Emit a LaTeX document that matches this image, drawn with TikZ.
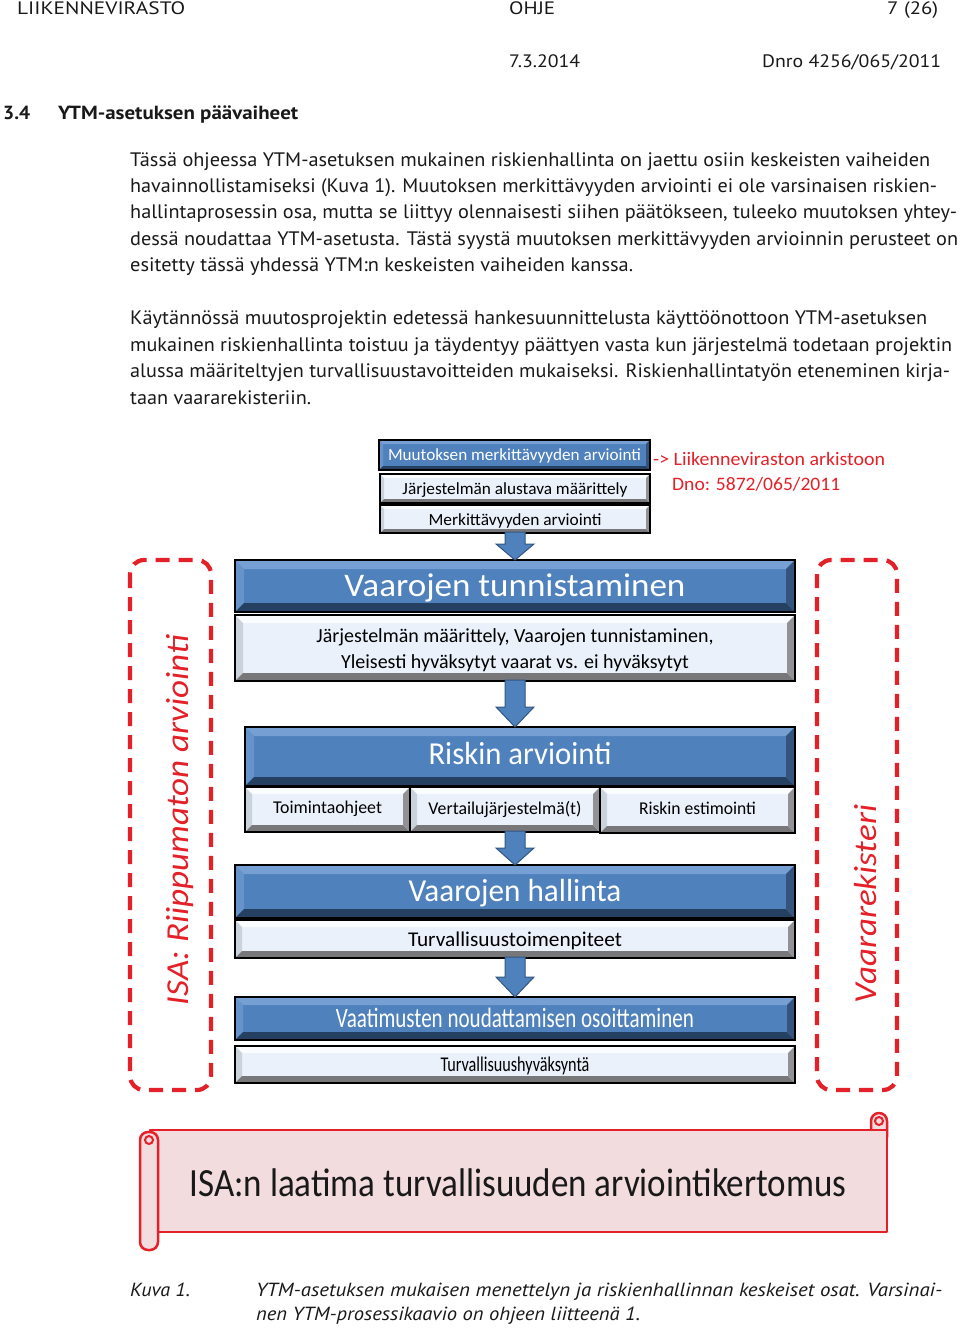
\documentclass[tikz,border=0pt]{standalone}
\usepackage{fontspec}
\setmainfont{PT Sans}
\newfontfamily\calfont{Carlito}
\usepackage{graphicx}
\usetikzlibrary{calc}
\definecolor{bmain}{RGB}{79,129,189}
\definecolor{btop}{RGB}{118,160,212}
\definecolor{bleft}{RGB}{102,147,202}
\definecolor{bbot}{RGB}{38,64,98}
\definecolor{bright}{RGB}{52,84,125}
\definecolor{gmain}{RGB}{234,241,250}
\definecolor{gtop}{RGB}{250,252,255}
\definecolor{gleft}{RGB}{202,210,220}
\definecolor{gbot}{RGB}{120,120,122}
\definecolor{gright}{RGB}{145,145,150}
\definecolor{redc}{RGB}{228,32,40}
\definecolor{scrollfill}{RGB}{242,220,222}
\definecolor{txtgray}{RGB}{25,25,25}
\definecolor{arrowline}{RGB}{50,85,130}
\newcommand\fitw[2]{\resizebox{#1}{\height}{#2}}
\newcommand\fs[2]{\fontsize{#1}{#2}\selectfont}
\tikzset{
 bluebox/.style={fill=bmain,inner sep=0pt,outer sep=0pt},
 greybox/.style={fill=gmain,inner sep=0pt,outer sep=0pt},
 bluetop/.style={fill=btop}, blueleft/.style={fill=bleft},
 bluebot/.style={fill=bbot}, blueright/.style={fill=bright},
 greytop/.style={fill=gtop}, greyleft/.style={fill=gleft},
 greybot/.style={fill=gbot}, greyright/.style={fill=gright},
 bluetext/.style={text=white, align=center, inner sep=0pt},
 greytext/.style={text=black, align=center, inner sep=0pt},
 boxline/.style={draw=black, line width=1.4pt},
 blockarr/.style={fill=bmain, draw=arrowline, line width=1pt},
 reddash/.style={draw=redc, line width=4.2pt, dash pattern=on 14pt off 9pt, rounded corners=14pt},
 scrollsty/.style={fill=scrollfill, draw=redc, line width=2.5pt, line join=round},
 bodytext/.style={anchor=base west, inner sep=0pt, text=txtgray, font=\fs{19.5}{24}},
 captext/.style={anchor=base west, inner sep=0pt, text=txtgray, font=\fs{19}{24}\itshape},
 headtext/.style={anchor=base west, inner sep=0pt, text=txtgray, font=\fs{18}{22}},
 redtext/.style={anchor=base west, inner sep=0pt, text=redc, font=\calfont\fs{19}{23}},
}
\newcommand\vstrut{\rule[-0.2em]{0pt}{0.86em}}
% #1 name, #2-#5 corners, #6 kind, #7 bevel, #8 font, #9 text
\newcommand\bevbox[9]{%
 \node[#6box, anchor=north west, minimum width={(#4-#2)*1pt}, minimum height={(#5-#3)*1pt}] (#1) at (#2,#3) {};
 \fill[#6top] (#1.north west) -- (#1.north east) -- ($(#1.north east)+(-#7,#7)$) -- ($(#1.north west)+(#7,#7)$) -- cycle;
 \fill[#6left] (#1.north west) -- ($(#1.north west)+(#7,#7)$) -- ($(#1.south west)+(#7,-#7)$) -- (#1.south west) -- cycle;
 \fill[#6bot] (#1.south west) -- (#1.south east) -- ($(#1.south east)+(-#7,-#7)$) -- ($(#1.south west)+(#7,-#7)$) -- cycle;
 \fill[#6right] (#1.north east) -- (#1.south east) -- ($(#1.south east)+(-#7,-#7)$) -- ($(#1.north east)+(-#7,#7)$) -- cycle;
 \draw[boxline] (#1.north west) rectangle (#1.south east);
 \node[#6text, font=#8] (#1t) at ($(#1.center)+(0,2)$) {\vstrut#9};
}
\newcommand\blockarrow[3]{%
 \path (#1.south -| ax) coordinate (#1s) (#2.north -| ax) coordinate (#2n);
 \filldraw[blockarr] ($(#1s)+(-10,-1)$) -- ($(#1s)+(10,-1)$) -- ($(#2n)+(10,-#3)$) -- ($(#2n)+(19,-#3)$) -- (#2n) -- ($(#2n)+(-19,-#3)$) -- ($(#2n)+(-10,-#3)$) -- cycle;
}
\begin{document}
\begin{tikzpicture}[x=1pt,y=-1pt]
\useasboundingbox (0,0) rectangle (960,1328);
\fill[white] (0,0) rectangle (960,1328);
% header
\node[headtext] (h1) at (17,14) {\fitw{168pt}{LIIKENNEVIRASTO}};
\node[headtext] (h2) at (509,14) {\fitw{46pt}{OHJE}};
\node[headtext] (h3) at (887,14) {\fitw{51pt}{7 (26)}};
\node[headtext] (h4) at (509,67) {\fitw{71pt}{7.3.2014}};
\node[headtext] (h5) at (762,67) {\fitw{179pt}{Dnro 4256/065/2011}};
\node[headtext, font=\fs{19}{22}\bfseries] (h6) at (3,119) {\fitw{27pt}{3.4}};
\node[headtext, font=\fs{19}{22}\bfseries] (h7) at (58,119) {\fitw{240pt}{YTM-asetuksen päävaiheet}};
% body
\node[bodytext] (p1) at (130,166) {\fitw{800pt}{Tässä ohjeessa YTM-asetuksen mukainen riskienhallinta on jaettu osiin keskeisten vaiheiden}};
\node[bodytext] (p2) at (130,192) {\fitw{807pt}{havainnollistamiseksi (Kuva 1). Muutoksen merkittävyyden arviointi ei ole varsinaisen riskien-}};
\node[bodytext] (p3) at (130,218) {\fitw{827pt}{hallintaprosessin osa, mutta se liittyy olennaisesti siihen päätökseen, tuleeko muutoksen yhtey-}};
\node[bodytext] (p4) at (130,245) {\fitw{828pt}{dessä noudattaa YTM-asetusta. Tästä syystä muutoksen merkittävyyden arvioinnin perusteet on}};
\node[bodytext] (p5) at (130,271) {\fitw{503pt}{esitetty tässä yhdessä YTM:n keskeisten vaiheiden kanssa.}};
\node[bodytext] (q1) at (130,324) {\fitw{797pt}{Käytännössä muutosprojektin edetessä hankesuunnittelusta käyttöönottoon YTM-asetuksen}};
\node[bodytext] (q2) at (130,351) {\fitw{822pt}{mukainen riskienhallinta toistuu ja täydentyy päättyen vasta kun järjestelmä todetaan projektin}};
\node[bodytext] (q3) at (130,377) {\fitw{820pt}{alussa määriteltyjen turvallisuustavoitteiden mukaiseksi. Riskienhallintatyön eteneminen kirja-}};
\node[bodytext] (q4) at (130,404) {\fitw{181pt}{taan vaararekisteriin.}};
% diagram
\coordinate (ax) at (515,0);
\draw[reddash] (130,560) rectangle (211,1090);
\draw[reddash] (817,560) rectangle (897,1090);
\node[rotate=90, text=redc, inner sep=0pt, font=\calfont\itshape\fs{32}{36}] (isa) at (180,820) {\fitw{370pt}{ISA: Riippumaton arviointi}};
\node[rotate=90, text=redc, inner sep=0pt, font=\calfont\itshape\fs{32}{36}] (vrek) at (865,904) {\fitw{198pt}{Vaararekisteri}};

\bevbox{m1}{379}{440}{650}{470}{blue}{4}{\calfont\fs{17}{20}}{\raisebox{2pt}{\fitw{253pt}{Muutoksen merkittävyyden arviointi}}}
\bevbox{m2}{380}{474}{650}{503}{grey}{4}{\calfont\fs{17}{20}}{\fitw{225pt}{Järjestelmän alustava määrittely}}
\bevbox{m3}{380}{505}{650}{533}{grey}{4}{\calfont\fs{17}{20}}{\fitw{173pt}{Merkittävyyden arviointi}}
\node[redtext] (rt1) at (653,465) {\fitw{232pt}{-> Liikenneviraston arkistoon}};
\node[redtext] (rt2) at (672,490) {\fitw{168pt}{Dno: 5872/065/2011}};

\bevbox{vt}{235}{560}{795}{612}{blue}{9}{\calfont\fs{33}{36}}{\fitw{341pt}{Vaarojen tunnistaminen}}
\bevbox{vtd}{235}{615}{795}{681}{grey}{8}{\calfont\fs{20}{26}}{Järjestelmän määrittely, Vaarojen tunnistaminen,\\ Yleisesti hyväksytyt vaarat vs. ei hyväksytyt}
\bevbox{ra}{245}{727}{795}{786}{blue}{9}{\calfont\fs{32}{36}}{\raisebox{3pt}{\fitw{183pt}{Riskin arviointi}}}
\bevbox{r1}{245}{787}{410}{832}{grey}{7}{\calfont\fs{18}{20}}{\raisebox{4pt}{\fitw{109pt}{Toimintaohjeet}}}
\bevbox{r2}{410}{787}{600}{832}{grey}{7}{\calfont\fs{18}{20}}{\raisebox{4pt}{\fitw{153pt}{Vertailujärjestelmä(t)}}}
\bevbox{r3}{600}{787}{795}{833}{grey}{7}{\calfont\fs{18}{20}}{\raisebox{4pt}{\fitw{117pt}{Riskin estimointi}}}
\bevbox{vh}{235}{865}{795}{918}{blue}{9}{\calfont\fs{32}{36}}{\fitw{213pt}{Vaarojen hallinta}}
\bevbox{vhd}{235}{920}{795}{958}{grey}{7}{\calfont\fs{21}{24}}{\fitw{214pt}{Turvallisuustoimenpiteet}}
\bevbox{vn}{235}{997}{795}{1040}{blue}{8}{\calfont\fs{28}{32}}{\fitw{358pt}{Vaatimusten noudattamisen osoittaminen}}
\bevbox{vnd}{235}{1046}{795}{1083}{grey}{7}{\calfont\fs{21}{24}}{\fitw{149pt}{Turvallisuushyväksyntä}}

\blockarrow{m3}{vt}{16}
\blockarrow{vtd}{ra}{20}
\blockarrow{r2}{vh}{17}
\blockarrow{vhd}{vn}{20}

% scroll banner
\filldraw[scrollsty, rounded corners=8pt] (871,1113) rectangle (887,1145);
\filldraw[scrollsty] (150,1130) rectangle (887,1232);
\filldraw[scrollsty, rounded corners=8pt] (140,1132) rectangle (158,1250);
\draw[redc, line width=2pt] (879,1121) circle[radius=4pt];
\draw[redc, line width=2pt] (149,1140) circle[radius=4pt];
\node[inner sep=0pt, text=txtgray, font=\calfont\fs{40}{44}] (bt) at (518,1183) {\fitw{657pt}{ISA:n laatima turvallisuuden arviointikertomus}};
% caption
\node[captext] (c1) at (130,1296) {\fitw{60pt}{Kuva 1.}};
\node[captext] (c2) at (256,1296) {\fitw{686pt}{YTM-asetuksen mukaisen menettelyn ja riskienhallinnan keskeiset osat. Varsinai-}};
\node[captext] (c3) at (256,1320) {\fitw{384pt}{nen YTM-prosessikaavio on ohjeen liitteenä 1.}};
\end{tikzpicture}
\end{document}
